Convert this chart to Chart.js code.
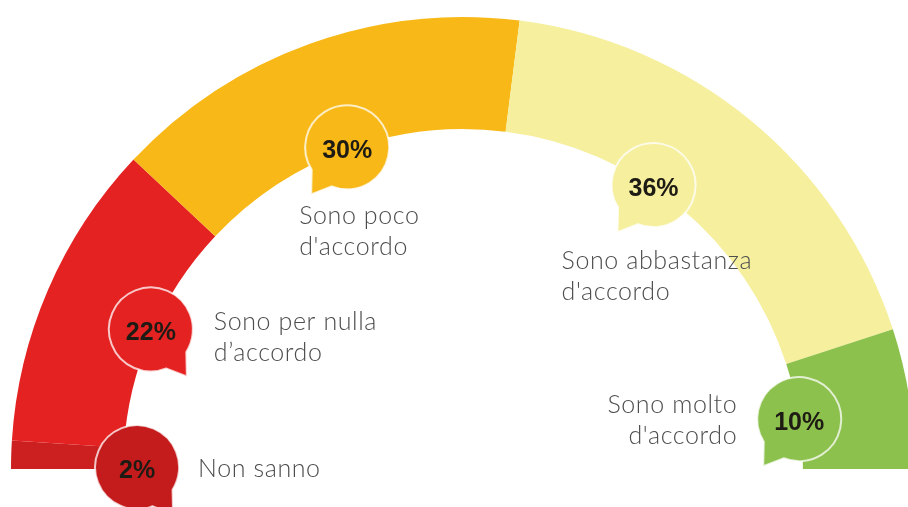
<!DOCTYPE html>
<html>
<head>
<meta charset="utf-8">
<script src="https://cdn.jsdelivr.net/npm/chart.js@4/dist/chart.umd.min.js"></script>
<style>
    html, body { margin: 0; padding: 0; background: #fff; overflow: hidden; }
    #wrap { width: 920px; height: 507px; }
</style>
</head>
<body>
<div id="wrap"><canvas id="gaugeChart"></canvas></div>
<script>
// Survey answers, left to right along the gauge
const answers = ["Non sanno", "Sono per nulla\nd\u2019accordo", "Sono poco\nd'accordo", "Sono abbastanza\nd'accordo", "Sono molto\nd'accordo"];
const shares = [2, 22, 30, 36, 10];
const sliceColors = ["#cc1f1f", "#e52222", "#f8b918", "#f5ef9e", "#8dc14e"];
const bubbleColors = ["#c41c1c", "#e52222", "#f8b918", "#f5ef9e", "#8dc14e"];

// where the answer text goes relative to its bubble, and which way the tail points
const labelPlaces = [
    { dx: 61, dy: 2, align: "left", tail: 1, shift: -0.026, dr: -16 },
    { dx: 63, dy: -8, align: "left", tail: 1, shift: 0.012, dr: 0 },
    { dx: -48, dy: 69, align: "left", tail: -1, shift: 0, dr: 0 },
    { dx: -92, dy: 76, align: "left", tail: -1, shift: -0.1, dr: 0 },
    { dx: -62, dy: -14, align: "right", tail: -1, shift: 0.01, dr: -2 }
];

const bubblePlugin = {
    id: "bubbles",
    afterDatasetsDraw(chart) {
        const ctx = chart.ctx;
        const arcs = chart.getDatasetMeta(0).data;
        arcs.forEach((arc, i) => {
            const lp = labelPlaces[i];
            const p = arc.getProps(["x", "y", "startAngle", "endAngle", "innerRadius"], true);
            const mid = (p.startAngle + p.endAngle) / 2 + lp.shift;
            const r = p.innerRadius + 2 + lp.dr;
            const cx = p.x + Math.cos(mid) * r;
            const cy = p.y + Math.sin(mid) * r;
            const br = 42;
            const t = lp.tail;

            // bubble with a small tail
            ctx.save();
            ctx.beginPath();
            const a1 = t > 0 ? Math.PI * 0.18 : Math.PI * 0.62;
            const a2 = t > 0 ? Math.PI * 0.38 : Math.PI * 0.82;
            ctx.arc(cx, cy, br, a2, a1 + Math.PI * 2, false);
            ctx.lineTo(cx + t * 36, cy + 47);
            ctx.closePath();
            ctx.fillStyle = bubbleColors[i];
            ctx.fill();
            ctx.lineWidth = 2;
            ctx.strokeStyle = "rgba(255,255,255,0.75)";
            ctx.stroke();

            ctx.fillStyle = "#1e1a14";
            ctx.font = "bold 25px Arial, 'Liberation Sans', sans-serif";
            ctx.textAlign = "center";
            ctx.textBaseline = "middle";
            ctx.fillText(shares[i] + "%", cx, cy + 4);

            // answer text
            ctx.fillStyle = "#4d4d4d";
            ctx.font = "300 25px Lato, 'Open Sans', sans-serif";
            ctx.letterSpacing = "0.6px";
            ctx.textAlign = lp.align;
            answers[i].split("\n").forEach((line, k) => {
                ctx.fillText(line, cx + lp.dx, cy + lp.dy + k * 31);
            });
            ctx.restore();
        });
    }
};

const ctx = document.getElementById("gaugeChart").getContext("2d");
const gaugeChart = new Chart(ctx, {
    type: "doughnut",
    data: {
        labels: answers,
        datasets: [{
            data: shares,
            backgroundColor: sliceColors,
            borderWidth: 0
        }]
    },
    options: {
        responsive: true,
        maintainAspectRatio: false,
        animation: false,
        rotation: -90,
        circumference: 180,
        cutout: "75.2%",
        layout: {
            padding: { left: 11, right: 5, top: 17, bottom: 38 }
        },
        plugins: {
            legend: { display: false },
            tooltip: { enabled: false }
        }
    },
    plugins: [bubblePlugin]
});
</script>
</body>
</html>
